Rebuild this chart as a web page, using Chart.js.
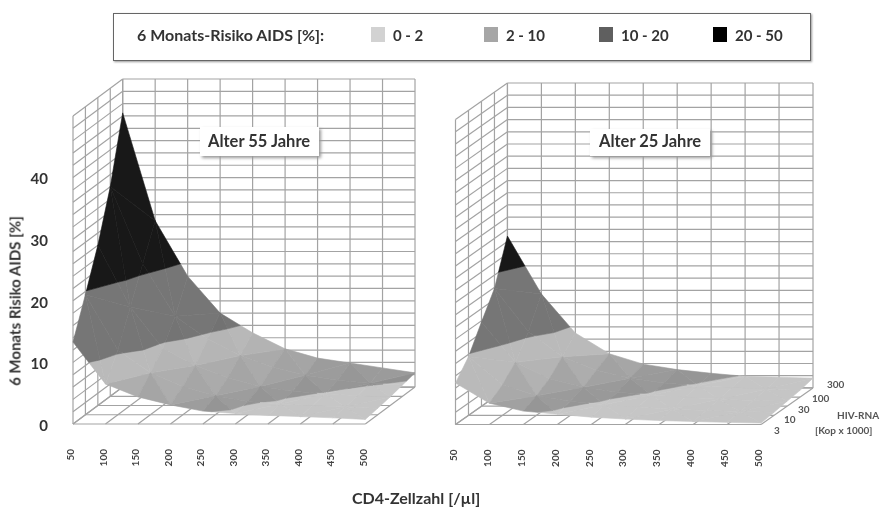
<!DOCTYPE html>
<html>
<head>
<meta charset="utf-8">
<script src="https://cdn.jsdelivr.net/npm/chart.js@4"></script>
<style>
  html, body { margin: 0; background: #fff; }
  #page { position: relative; width: 885px; height: 508px; overflow: hidden; background: #fff; filter: blur(0.55px);
          font-family: Lato, "Open Sans", sans-serif; font-weight: 700; color: #333; }
  canvas { position: absolute; top: 0; }
  .txt { position: absolute; white-space: nowrap; line-height: 1; transform: translateY(-50%); }
  #legend { position: absolute; left: 113px; top: 13px; width: 696px; height: 46px; border: 1.5px solid #666; box-shadow: 1px 1px 2px #999; background: #fff; }
  .swatch { position: absolute; top: 27px; width: 14px; height: 15px; }
  .tag { position: absolute; background: #fff; box-shadow: 2px 2px 3px #999; }
  .small { font-size: 10px; color: #555; }
  #yTitle { position: absolute; left: 15px; top: 301px; font-size: 15px; white-space: nowrap; line-height: 1; transform: translate(-50%, -50%) rotate(-90deg); }
</style>
</head>
<body>
<div id="page">
  <canvas id="panel55" width="440" height="508" style="left:0"></canvas>
  <canvas id="panel25" width="485" height="508" style="left:400px"></canvas>

  <div id="legend"></div>
  <div class="txt" style="left:137px;top:35px;font-size:16px">6 Monats-Risiko AIDS [%]:</div>
  <div id="legendItems"></div>

  <div class="tag" style="left:200px;top:127px;width:119px;height:29px"></div>
  <div class="txt" style="left:208px;top:141px;font-size:16.5px">Alter 55 Jahre</div>
  <div class="tag" style="left:590px;top:129px;width:120px;height:27px"></div>
  <div class="txt" style="left:599px;top:141px;font-size:16.5px">Alter 25 Jahre</div>

  <div id="yTitle">6 Monats Risiko AIDS [%]</div>
  <div class="txt" style="left:352px;top:498px;font-size:16px">CD4-Zellzahl [/µl]</div>

  <div class="txt small" style="left:827px;top:384px">300</div>
  <div class="txt small" style="left:812px;top:398px">100</div>
  <div class="txt small" style="left:798px;top:409px">30</div>
  <div class="txt small" style="left:784px;top:419px">10</div>
  <div class="txt small" style="left:774px;top:430px">3</div>
  <div class="txt small" style="left:837px;top:415px">HIV-RNA</div>
  <div class="txt small" style="left:815px;top:430px">[Kop x 1000]</div>
</div>

<script>
/* daten */
const cd4Levels = [50, 100, 150, 200, 250, 300, 350, 400, 450, 500];
const rnaLevels = [3, 10, 30, 100, 300];
const riskTicks = [0, 10, 20, 30, 40];
const wallLevels = [0, 2, 4, 6, 8, 10, 12, 14, 16, 18, 20, 22, 24, 26, 28, 30, 32, 34, 36, 38, 40, 42, 44, 46, 48, 50];

// eine zeile je HIV-RNA stufe, eine spalte je CD4 stufe
const risk55 = [
  [13.3, 6.5, 4.4, 3.1, 2.1, 1.7, 1.4, 1.2, 1.0, 0.75],
  [19.5, 10.5, 6.8, 4.6, 3.1, 2.15, 1.75, 1.5, 1.25, 1.05],
  [26, 16, 9.3, 6.5, 4.5, 3.1, 2.3, 1.9, 1.6, 1.4],
  [34, 21.5, 13, 9.3, 6.6, 4.7, 3.4, 2.6, 2.1, 1.85],
  [44.5, 27, 18, 12, 8.8, 6.2, 4.7, 3.9, 3.1, 2.3],
];
const risk25 = [
  [6.8, 3.5, 2.2, 1.7, 1.2, 0.9, 0.65, 0.5, 0.35, 0.25],
  [9.6, 5.0, 3.2, 2.3, 1.75, 1.35, 1.0, 0.8, 0.65, 0.5],
  [13.8, 7.2, 4.5, 3.1, 2.3, 1.85, 1.45, 1.15, 0.95, 0.8],
  [17.8, 10.7, 6.6, 4.4, 3.1, 2.3, 1.85, 1.55, 1.3, 1.1],
  [24.9, 15.4, 9, 5.6, 3.9, 3.0, 2.4, 1.9, 1.75, 1.6],
];

const bandLabels = ['0 - 2', '2 - 10', '10 - 20', '20 - 50'];
const bandLower = [0, 2, 10, 20];
const bandUpper = [2, 10, 20, 50];

/* ── Darstellung ── */
const BAND_SHADE = [
  { base: 196, amp: 14, swatch: '#d2d2d2' },
  { base: 140, amp: 46, swatch: '#a6a6a6' },
  { base: 88, amp: 30, swatch: '#5f5f5f' },
  { base: 0, amp: 24, swatch: '#000000' },
];
const GRID = '#a3a3a3';
// schraege projektion: eine RNA stufe nach hinten verschiebt x und risiko
const DEPTH_X = 76.5 / 4;
const DEPTH_Z = 6 / 4;
const X_MAX = 576.5;
const Z_MAX = 56;

function project(cd4, depth, risk) {
  return { x: cd4 + depth * DEPTH_X, y: risk + depth * DEPTH_Z };
}

function segment(a, b) {
  return {
    data: [a, b],
    showLine: true,
    borderColor: GRID,
    borderWidth: 1.2,
    pointRadius: 0,
    fill: false,
    clip: false,
  };
}

/* ── Wände und Boden ── */
function wallDatasets() {
  const top = wallLevels[wallLevels.length - 1];
  const back = rnaLevels.length - 1;
  const first = cd4Levels[0];
  const last = cd4Levels[cd4Levels.length - 1];
  const out = [];
  wallLevels.forEach(z => {
    out.push(segment(project(first, back, z), project(last, back, z)));
    out.push(segment(project(first, 0, z), project(first, back, z)));
  });
  cd4Levels.forEach(c => {
    out.push(segment(project(c, back, 0), project(c, back, top)));
    out.push(segment(project(c, 0, 0), project(c, back, 0)));
  });
  rnaLevels.forEach((r, d) => {
    out.push(segment(project(first, d, 0), project(first, d, top)));
    out.push(segment(project(first, d, 0), project(last, d, 0)));
  });
  return out;
}

/* ── Fläche: Dreiecke je Zelle, an den Bandgrenzen geschnitten ── */
function clipAt(poly, limit, keepAbove) {
  const out = [];
  poly.forEach((p, i) => {
    const q = poly[(i + 1) % poly.length];
    const pIn = keepAbove ? p.z >= limit : p.z <= limit;
    const qIn = keepAbove ? q.z >= limit : q.z <= limit;
    if (pIn) out.push(p);
    if (pIn !== qIn) {
      const t = (limit - p.z) / (q.z - p.z);
      out.push({ c: p.c + t * (q.c - p.c), d: p.d + t * (q.d - p.d), z: limit });
    }
  });
  return out;
}

function facetLight(a, b, c) {
  // normale in etwa bildschirm-einheiten, licht von rechts, oben gekappt
  const ux = (b.c - a.c) * 0.65, uy = (b.d - a.d) * 45, uz = (b.z - a.z) * 6.2;
  const vx = (c.c - a.c) * 0.65, vy = (c.d - a.d) * 45, vz = (c.z - a.z) * 6.2;
  let nx = uy * vz - uz * vy, ny = uz * vx - ux * vz, nz = ux * vy - uy * vx;
  if (nz < 0) { nx = -nx; ny = -ny; nz = -nz; }
  const len = Math.hypot(nx, ny, nz);
  return Math.min(1, Math.max(0, (nx * 0.9 - ny * 0.3) / len) / 0.55);
}

function surfaceDatasets(risk) {
  const out = [];
  for (let d = rnaLevels.length - 2; d >= 0; d--) {
    for (let i = 0; i < cd4Levels.length - 1; i++) {
      const p = (di, ci) => ({ c: cd4Levels[i + ci], d: d + di, z: risk[d + di][i + ci] });
      const tris = (i + d) % 2 === 0
        ? [[p(1, 0), p(1, 1), p(0, 1)], [p(1, 0), p(0, 1), p(0, 0)]]
        : [[p(1, 1), p(0, 1), p(0, 0)], [p(1, 0), p(1, 1), p(0, 0)]];
      tris.forEach(tri => {
        const light = facetLight(tri[0], tri[1], tri[2]);
        bandLower.forEach((lo, b) => {
          const poly = clipAt(clipAt(tri, lo, true), bandUpper[b], false);
          if (poly.length < 3) return;
          const g = Math.round(BAND_SHADE[b].base + BAND_SHADE[b].amp * light);
          const color = `rgb(${g},${g},${g})`;
          const pts = poly.map(v => project(v.c, v.d, v.z));
          pts.push(pts[0]);
          out.push({
            data: pts,
            showLine: true,
            fill: 'shape',
            backgroundColor: color,
            borderColor: color,
            borderWidth: 0.6,
            pointRadius: 0,
            clip: false,
          });
        });
      });
    }
  }
  return out;
}

function buildPanel(id, risk, area, showRiskTicks) {
  const canvas = document.getElementById(id);
  // index 0 liegt oben, also umdrehen
  const datasets = wallDatasets().concat(surfaceDatasets(risk)).reverse();
  return new Chart(canvas, {
    type: 'scatter',
    data: { datasets },
    options: {
      responsive: false,
      animation: false,
      events: [],
      layout: { padding: { top: area.top, right: canvas.width - area.right, left: 0, bottom: 0 } },
      plugins: { legend: { display: false }, tooltip: { enabled: false } },
      scales: {
        x: {
          type: 'linear',
          min: cd4Levels[0],
          max: X_MAX,
          grid: { display: false },
          border: { display: false },
          afterBuildTicks: s => { s.ticks = cd4Levels.map(v => ({ value: v })); },
          afterFit: s => { s.height = canvas.height - area.bottom; },
          ticks: {
            autoSkip: false,
            minRotation: 90,
            maxRotation: 90,
            padding: 17,
            labelOffset: -2,
            color: '#444',
            font: { family: 'Lato', weight: 'bold', size: 10 },
          },
        },
        y: {
          type: 'linear',
          min: 0,
          max: Z_MAX,
          grid: { display: false },
          border: { display: false },
          afterBuildTicks: s => { s.ticks = riskTicks.map(v => ({ value: v })); },
          afterFit: s => { s.width = area.left; },
          ticks: {
            padding: 17,
            labelOffset: 2,
            color: '#333',
            font: { family: 'Lato', weight: 'bold', size: 15 },
            callback: v => (showRiskTicks ? v : ''),
          },
        },
      },
    },
  });
}

/* ── Legende ── */
function renderLegend() {
  const swatchLeft = [371, 484, 599, 713];
  const html = bandLabels.map((label, b) =>
    `<div class="swatch" style="left:${swatchLeft[b]}px;background:${BAND_SHADE[b].swatch}"></div>
     <div class="txt" style="left:${swatchLeft[b] + 22}px;top:35px;font-size:15px">${label}</div>`
  ).join('');
  document.getElementById('legendItems').innerHTML = html;
}

renderLegend();
buildPanel('panel55', risk55, { left: 73, right: 415, top: 79, bottom: 424 }, true);
buildPanel('panel25', risk25, { left: 55.5, right: 413, top: 83, bottom: 424.5 }, false);
</script>
</body>
</html>
